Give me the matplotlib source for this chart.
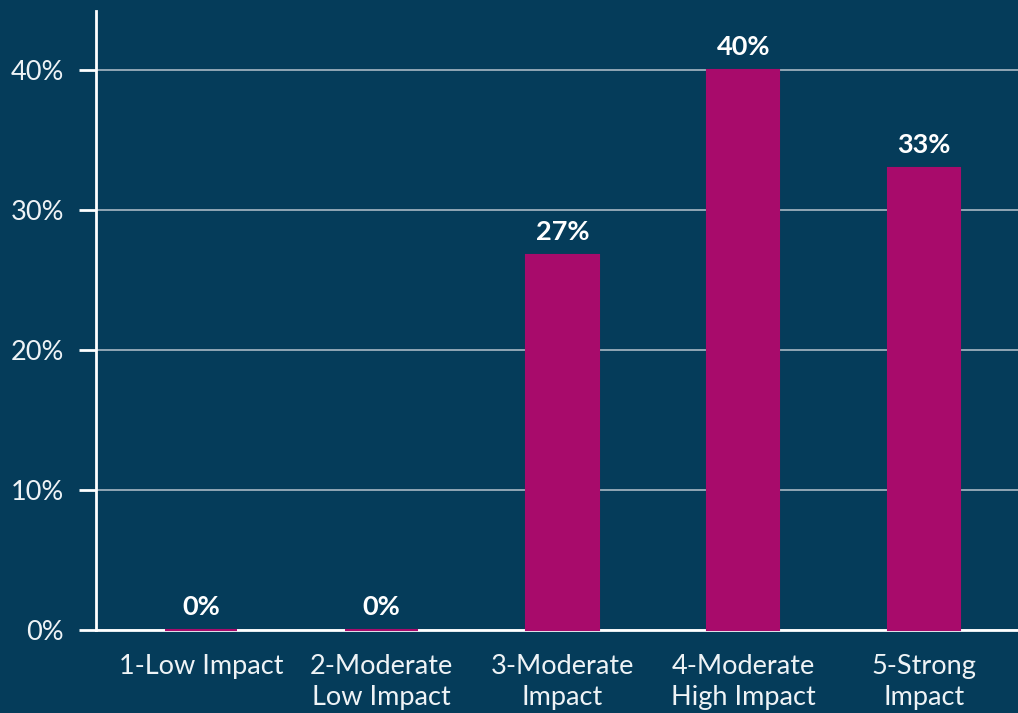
"""Bar chart of impact ratings on a navy background."""

import matplotlib
matplotlib.use("Agg")
import matplotlib.pyplot as plt
from matplotlib.ticker import FuncFormatter

# data
categories = ["1-Low Impact", "2-Moderate\nLow Impact", "3-Moderate\nImpact",
              "4-Moderate\nHigh Impact", "5-Strong\nImpact"]
shares = [0.0, 0.0, 26.8, 40.0, 33.0]
value_labels = ["0%", "0%", "27%", "40%", "33%"]
y_ticks = [0, 10, 20, 30, 40]

BG = "#053c5a"
BAR = "#a80b6b"
GRID = "#a9b8c4"

plt.rcParams["font.family"] = ["Lato", "DejaVu Sans"]

fig = plt.figure(figsize=(10.18, 7.13), dpi=100, facecolor=BG)
ax = fig.add_axes([0.0943, 0.1164, 0.9057, 0.8682], facecolor=BG)

x = range(len(categories))
ax.bar(x, shares, width=0.40, color=BAR, edgecolor=BAR, linewidth=1.5,
       zorder=4, clip_on=False)

for xi, v, lab in zip(x, shares, value_labels):
    ax.annotate(lab, (xi, v), xytext=(0, 8), textcoords="offset points",
                ha="center", va="bottom", color="white", fontsize=19.5,
                fontweight="bold")

ax.set_xlim(-0.58, 4.52)
ax.set_ylim(0, 44.2)
ax.set_yticks(y_ticks)
ax.yaxis.set_major_formatter(FuncFormatter(lambda v, _: f"{v:.0f}%"))
ax.set_xticks(list(x))
ax.set_xticklabels(categories, linespacing=1.3)

ax.grid(axis="y", color=GRID, linewidth=1.2, zorder=1)
ax.set_axisbelow(True)

for side in ("top", "right"):
    ax.spines[side].set_visible(False)
for side in ("left", "bottom"):
    ax.spines[side].set_color("white")
    ax.spines[side].set_linewidth(2)
    ax.spines[side].set_zorder(3)

ax.tick_params(axis="y", color="white", labelcolor="#eef3f6", length=12,
               width=2, pad=11, labelsize=19.5)
ax.tick_params(axis="x", labelcolor="#eef3f6", length=0, pad=17,
               labelsize=19.5)

fig.savefig("out.png", dpi=100, facecolor=BG)
